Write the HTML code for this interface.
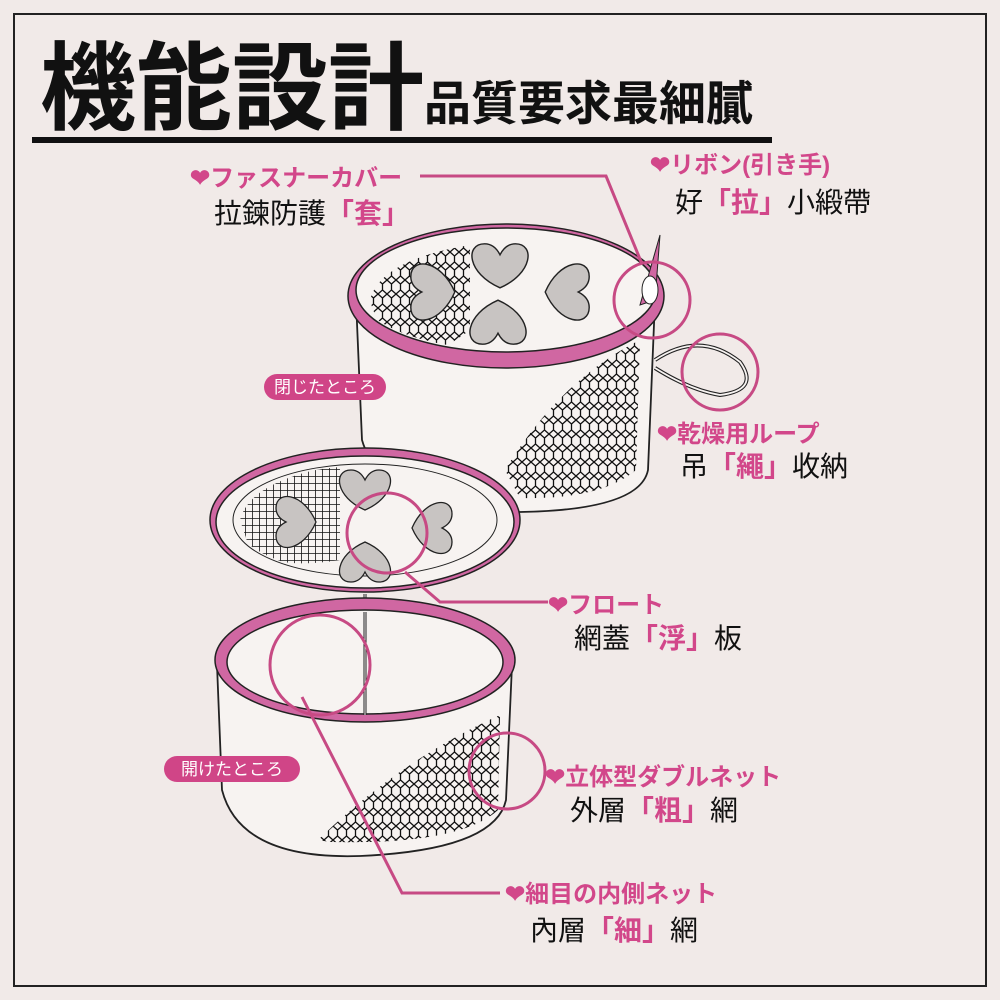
<!DOCTYPE html>
<html><head><meta charset="utf-8"><style>
body{margin:0;background:#f1eae8;}
svg{display:block}
.t{font-family:"Liberation Sans","Noto Sans CJK JP",sans-serif;}
.p{fill:#d2478a;font-weight:bold;font-size:24px}
.b{fill:#111;font-size:28px}
</style></head><body>
<svg class="t" width="1000" height="1000" viewBox="0 0 1000 1000">
<defs>
<pattern id="mesh" width="9" height="14" patternUnits="userSpaceOnUse">
<path d="M0 0 L4.5 4 L4.5 10 L0 14 M9 0 L4.5 4 M4.5 10 L9 14" fill="none" stroke="#111" stroke-width="1.3"/>
</pattern>
<pattern id="grid" width="7" height="7" patternUnits="userSpaceOnUse">
<path d="M0 0H7M0 0V7" stroke="#111" stroke-width="1.6"/>
</pattern>
<clipPath id="topin"><ellipse cx="506" cy="290" rx="148" ry="60"/></clipPath>
<clipPath id="midin"><ellipse cx="365" cy="520" rx="130" ry="54"/></clipPath>
<g id="heart"><path d="M0 18 C-30 5 -32 -22 -14 -22 C-6 -22 -2 -16 0 -12 C2 -16 6 -22 14 -22 C32 -22 30 5 0 18Z" fill="#c8c4c2" stroke="#222" stroke-width="1.3"/></g>
</defs>
<rect width="1000" height="1000" fill="#f1eae8"/>
<rect x="14" y="14" width="972" height="972" fill="none" stroke="#222" stroke-width="2"/>
<text x="40" y="122" font-size="96" font-weight="bold" fill="#111">機能設計</text>
<text x="424" y="120" font-size="47" font-weight="bold" fill="#111">品質要求最細膩</text>
<rect x="32" y="137" width="740" height="6" fill="#111"/>

<!-- top cylinder body -->
<path d="M356 300 L362 440 Q380 505 520 512 Q640 510 648 470 L655 300 Z" fill="#f7f3f1" stroke="#222" stroke-width="1.8"/>
<path d="M505 470 Q560 380 640 340 L636 470 Q600 500 520 498 Z" fill="url(#mesh)"/>
<!-- top lid -->
<ellipse cx="506" cy="296" rx="158" ry="72" fill="#d067a2" stroke="#222" stroke-width="1.5"/>
<ellipse cx="506" cy="290" rx="150" ry="62" fill="#f7f3f1" stroke="#222" stroke-width="1.5"/>
<g clip-path="url(#topin)">
<path d="M370 300 Q380 260 470 245 L470 330 Q430 360 420 350 Q380 340 370 300Z" fill="url(#mesh)"/>
</g>
<use href="#heart" transform="translate(500,268) scale(1.1)"/>
<use href="#heart" transform="translate(435,292) rotate(-90) scale(1.1)"/>
<use href="#heart" transform="translate(565,292) rotate(90) scale(1.1)"/>
<use href="#heart" transform="translate(498,320) rotate(180) scale(1.1)"/>
<!-- ribbon & loop -->
<path d="M640 305 L660 235 L655 300 Z" fill="#d067a2" stroke="#222"/>
<ellipse cx="650" cy="290" rx="8" ry="14" fill="#fff" stroke="#222"/>
<path d="M655 360 Q700 330 740 362 Q760 390 720 395 Q690 390 655 368" fill="none" stroke="#222" stroke-width="4"/>
<path d="M655 360 Q700 330 740 362 Q760 390 720 395 Q690 390 655 368" fill="none" stroke="#f7f3f1" stroke-width="1.8"/>

<!-- middle lid -->
<ellipse cx="365" cy="520" rx="155" ry="72" fill="#d067a2" stroke="#222" stroke-width="1.5"/>
<ellipse cx="365" cy="522" rx="149" ry="66" fill="#f7f3f1" stroke="#222" stroke-width="1.5"/>
<ellipse cx="365" cy="520" rx="132" ry="56" fill="none" stroke="#222" stroke-width="1"/>
<g clip-path="url(#midin)">
<path d="M240 520 Q250 480 340 465 L340 560 Q280 570 250 550Z" fill="url(#grid)"/>
</g>
<use href="#heart" transform="translate(365,492)"/>
<use href="#heart" transform="translate(298,522) rotate(-90)"/>
<use href="#heart" transform="translate(430,528) rotate(90)"/>
<use href="#heart" transform="translate(365,560) rotate(180)"/>
<line x1="365" y1="594" x2="365" y2="720" stroke="#222" stroke-width="3"/>
<line x1="365" y1="594" x2="365" y2="720" stroke="#f7f3f1" stroke-width="1"/>

<!-- bottom cylinder -->
<path d="M217 665 L222 790 Q240 860 360 856 Q495 850 506 800 L512 665 Z" fill="#f7f3f1" stroke="#222" stroke-width="1.8"/>
<path d="M318 840 Q400 760 500 715 L498 810 Q460 845 330 842Z" fill="url(#mesh)"/>
<ellipse cx="365" cy="660" rx="150" ry="62" fill="#d067a2" stroke="#222" stroke-width="1.5"/>
<ellipse cx="365" cy="662" rx="138" ry="52" fill="#f7f3f1" stroke="#222" stroke-width="1.5"/>
<line x1="365" y1="612" x2="365" y2="715" stroke="#222" stroke-width="3"/>
<line x1="365" y1="612" x2="365" y2="715" stroke="#f7f3f1" stroke-width="1"/>

<!-- pills -->
<rect x="264" y="374" width="122" height="26" rx="13" fill="#d04587"/>
<text x="325" y="393" text-anchor="middle" font-size="17" fill="#fff">閉じたところ</text>
<rect x="164" y="756" width="136" height="26" rx="13" fill="#d04587"/>
<text x="232" y="775" text-anchor="middle" font-size="17" fill="#fff">開けたところ</text>

<!-- callout circles & lines -->
<g fill="none" stroke="#c74a84" stroke-width="3">
<circle cx="652" cy="300" r="38"/>
<circle cx="720" cy="372" r="38"/>
<circle cx="387" cy="533" r="40"/>
<circle cx="320" cy="665" r="50"/>
<circle cx="507" cy="771" r="38"/>
<polyline points="420,176 606,176 642,264"/>
<polyline points="405,572 440,602 548,602"/>
<polyline points="302,697 402,893 500,893"/>
</g>

<!-- labels -->
<text class="p" x="190" y="186">❤ファスナーカバー</text>
<text class="b" x="214" y="223">拉鍊防護<tspan fill="#d2478a" font-weight="bold">「套」</tspan></text>
<text class="p" x="650" y="173">❤リボン(引き手)</text>
<text class="b" x="675" y="212">好<tspan fill="#d2478a" font-weight="bold">「拉」</tspan>小緞帶</text>
<text class="p" x="657" y="442">❤乾燥用ループ</text>
<text class="b" x="680" y="476">吊<tspan fill="#d2478a" font-weight="bold">「繩」</tspan>收納</text>
<text class="p" x="548" y="613">❤フロート</text>
<text class="b" x="574" y="648">網蓋<tspan fill="#d2478a" font-weight="bold">「浮」</tspan>板</text>
<text class="p" x="545" y="785">❤立体型ダブルネット</text>
<text class="b" x="570" y="820">外層<tspan fill="#d2478a" font-weight="bold">「粗」</tspan>網</text>
<text class="p" x="505" y="902">❤細目の内側ネット</text>
<text class="b" x="530" y="940">內層<tspan fill="#d2478a" font-weight="bold">「細」</tspan>網</text>
</svg>
</body></html>
